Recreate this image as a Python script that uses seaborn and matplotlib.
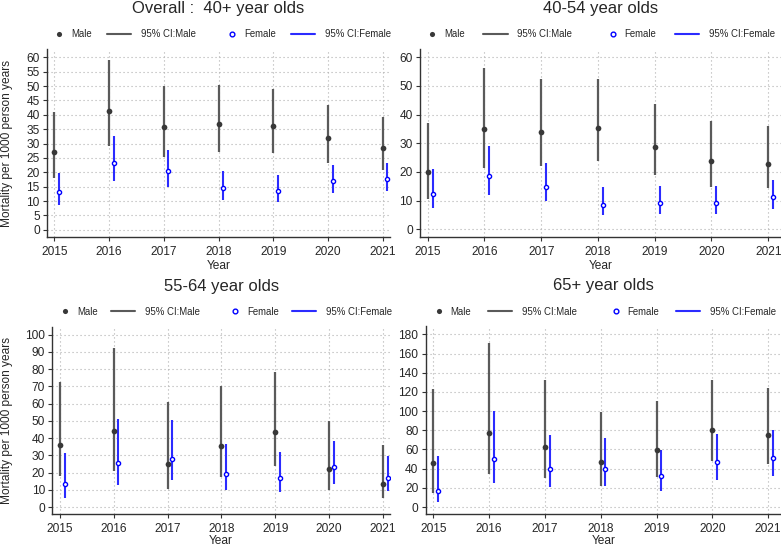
import numpy as np
import pandas as pd
import matplotlib
matplotlib.use("Agg")
import matplotlib.pyplot as plt
import seaborn as sns
from matplotlib.lines import Line2D
from matplotlib.legend_handler import HandlerLine2D

# ---------------- data ----------------
years = [2015, 2016, 2017, 2018, 2019, 2020, 2021]
panel_titles = ["Overall :  40+ year olds", "40-54 year olds",
                "55-64 year olds", "65+ year olds"]
legend_labels = ["Male", "95% CI:Male", "Female", "95% CI:Female"]
x_label = "Year"
y_label = "Mortality per 1000 person years"

# Overall 40+
overall_male = [27.1, 41.5, 35.6, 36.9, 36.2, 31.9, 28.5]
overall_male_lo = [17.9, 29.0, 25.3, 27.1, 26.7, 23.2, 20.9]
overall_male_hi = [41.1, 59.2, 50.1, 50.3, 49.0, 43.4, 39.3]
overall_female = [13.1, 23.4, 20.4, 14.5, 13.6, 17.1, 17.7]
overall_female_lo = [8.6, 16.9, 15.0, 10.3, 9.7, 12.9, 13.5]
overall_female_hi = [19.7, 32.5, 27.8, 20.3, 18.9, 22.7, 23.4]

# 40-54
a4054_male = [20.0, 35.0, 34.0, 35.2, 28.8, 23.8, 22.8]
a4054_male_lo = [10.6, 21.5, 22.2, 23.9, 19.0, 14.9, 14.4]
a4054_male_hi = [37.1, 56.3, 52.3, 52.4, 43.7, 37.7, 35.9]
a4054_female = [12.4, 18.6, 14.9, 8.6, 9.1, 9.2, 11.2]
a4054_female_lo = [7.3, 12.1, 9.8, 4.9, 5.5, 5.5, 7.1]
a4054_female_hi = [20.9, 29.0, 23.1, 14.7, 15.0, 15.0, 17.3]

# 55-64
a5564_male = [36.2, 43.9, 25.1, 35.2, 43.5, 22.2, 13.5]
a5564_male_lo = [18.2, 21.1, 10.4, 17.2, 24.0, 10.1, 5.2]
a5564_male_hi = [72.5, 92.5, 60.7, 70.0, 78.3, 49.7, 35.8]
a5564_female = [13.2, 25.7, 27.9, 19.1, 16.8, 23.0, 16.6]
a5564_female_lo = [5.4, 13.0, 15.5, 10.1, 8.7, 13.5, 9.3]
a5564_female_hi = [31.1, 51.3, 50.3, 36.4, 31.9, 38.5, 29.8]

# 65+
a65_male = [45.9, 76.8, 62.9, 47.3, 59.8, 79.9, 75.1]
a65_male_lo = [14.9, 34.4, 30.2, 22.2, 31.6, 47.6, 44.8]
a65_male_hi = [122.7, 171.0, 132.4, 98.7, 110.8, 132.4, 124.4]
a65_female = [17.0, 50.0, 39.3, 40.0, 32.0, 46.6, 51.4]
a65_female_lo = [5.6, 25.0, 20.8, 21.9, 17.0, 28.1, 32.7]
a65_female_hi = [52.8, 100.1, 75.4, 72.3, 59.8, 76.1, 80.3]

panels = [
    (overall_male, overall_male_lo, overall_male_hi,
     overall_female, overall_female_lo, overall_female_hi),
    (a4054_male, a4054_male_lo, a4054_male_hi,
     a4054_female, a4054_female_lo, a4054_female_hi),
    (a5564_male, a5564_male_lo, a5564_male_hi,
     a5564_female, a5564_female_lo, a5564_female_hi),
    (a65_male, a65_male_lo, a65_male_hi,
     a65_female, a65_female_lo, a65_female_hi),
]
yticks_list = [np.arange(0, 61, 5), np.arange(0, 61, 10),
               np.arange(0, 101, 10), np.arange(0, 181, 20)]

# ---------------- style / layout ----------------
sns.set_style("ticks")
plt.rcParams['font.family'] = ['Liberation Sans', 'DejaVu Sans']

W, H = 781, 547
fig = plt.figure(figsize=(W / 100, H / 100), dpi=100)

# axes rects in pixels: (left, top, right, bottom)
rects_px = [(47, 49, 390, 237.3), (420, 49, 781, 237.3),
            (52.3, 327.3, 390, 514.3), (425.7, 326, 781, 514.3)]
xlims = [(2014.867, 2021.133), (2014.864, 2021.225),
         (2014.857, 2021.130), (2014.864, 2021.23)]
ylims = [(-2.6, 62.9), (-2.8, 62.9), (-4.2, 104.3), (-7.6, 188.7)]
legend_px = [(37, 391, 34), (410, 775, 34), (43, 392, 311.7), (416.6, 776, 311.7)]
ylabel_x = [-0.100, None, -0.117, None]

male_dot = "#383838"
male_ci = "#5a5a5a"
fem_edge = "#0000ff"
fem_ci = "#2b2bff"
grid_c = "#b0b0b0"
f_off = 0.085


class RightMarkerHandler(HandlerLine2D):
    def create_artists(self, legend, orig_handle, xdescent, ydescent,
                       width, height, fontsize, trans):
        arts = super().create_artists(legend, orig_handle, xdescent, ydescent,
                                      width, height, fontsize, trans)
        for a in arts:
            xd = np.asarray(a.get_xdata(), dtype=float)
            a.set_xdata(np.full_like(xd, -xdescent + width - 1.7))
        return arts


for i, (vals, rpx) in enumerate(zip(panels, rects_px)):
    m, mlo, mhi, f, flo, fhi = vals
    l, t, r, b = rpx
    ax = fig.add_axes([l / W, 1 - b / H, (r - l) / W, (b - t) / H])
    df = pd.DataFrame({"year": years, "m": m, "mlo": mlo, "mhi": mhi,
                       "f": f, "flo": flo, "fhi": fhi})
    df["xf"] = df["year"] + f_off

    # grid
    ax.set_xticks(years)
    ax.set_yticks(yticks_list[i])
    ax.grid(True, color=grid_c, linestyle=(0, (1, 2.6)), linewidth=0.8)
    ax.set_axisbelow(True)

    # CIs
    ax.vlines(df["year"], df["mlo"], df["mhi"], color=male_ci, lw=1.6, zorder=2)
    ax.vlines(df["xf"], df["flo"], df["fhi"], color=fem_ci, lw=1.5, zorder=2)
    # points
    sns.scatterplot(data=df, x="year", y="m", ax=ax, marker="o", s=17,
                    color=male_dot, edgecolor=male_dot, linewidth=0, zorder=3,
                    legend=False)
    sns.scatterplot(data=df, x="xf", y="f", ax=ax, marker="o", s=9,
                    facecolor="white", edgecolor=fem_edge, linewidth=1.0,
                    zorder=3, legend=False)

    ax.set_xlim(*xlims[i])
    ax.set_ylim(*ylims[i])
    for s in ["top", "right"]:
        ax.spines[s].set_visible(False)
    for s in ["left", "bottom"]:
        ax.spines[s].set_color("#333333")
        ax.spines[s].set_linewidth(1.0)
    ax.tick_params(axis="both", labelsize=8.6, length=2.8, width=0.8,
                   color="#333333", pad=2.5)
    ax.tick_params(axis="x", pad=3.2)
    ax.set_xlabel(x_label, fontsize=8.6, labelpad=1.5 if i < 2 else 0.3)
    if ylabel_x[i] is not None:
        ax.set_ylabel(y_label, fontsize=8.6)
        ax.yaxis.set_label_coords(ylabel_x[i], 0.5)
    else:
        ax.set_ylabel("")
    ax.set_title(panel_titles[i], fontsize=12, pad=26)

    # legend
    handles = [
        Line2D([], [], ls="none", marker="o", ms=3.7, mfc=male_dot, mec=male_dot, mew=0),
        Line2D([], [], color=male_ci, lw=1.5),
        Line2D([], [], ls="none", marker="o", ms=3.4, mfc="white", mec=fem_edge, mew=1.0),
        Line2D([], [], color=fem_ci, lw=1.5),
    ]
    lx0, lx1, ly = legend_px[i]
    ax.legend(handles, legend_labels, ncol=4, mode="expand", loc="center",
              bbox_to_anchor=(lx0 / W, 1 - (ly + 5) / H, (lx1 - lx0) / W, 10 / H),
              bbox_transform=fig.transFigure, frameon=False, fontsize=6.9,
              handlelength=2.55, handletextpad=1.0, borderpad=0,
              borderaxespad=0, columnspacing=0.5,
              handler_map={handles[0]: RightMarkerHandler(),
                           handles[2]: RightMarkerHandler()})

fig.savefig("out.png", dpi=100)
